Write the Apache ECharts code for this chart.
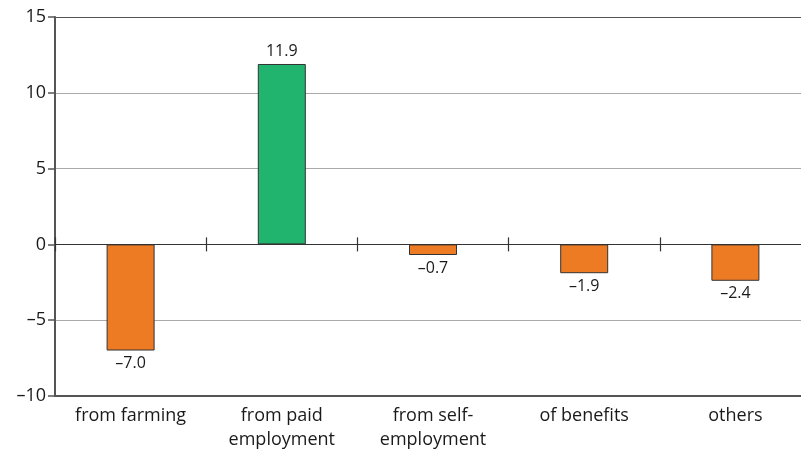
<!DOCTYPE html>
<html>
<head>
<meta charset="utf-8">
<script src="https://cdn.jsdelivr.net/npm/echarts@6/dist/echarts.min.js"></script>
<style>
  html, body { margin: 0; padding: 0; background: #fff; }
  #chart { width: 801px; height: 456px; }
</style>
</head>
<body>
<div id="chart"></div>
<script>
// 数据
const categories = ['from farming', 'from paid\nemployment', 'from self-\nemployment', 'of benefits', 'others'];
const values = [-7.0, 11.9, -0.7, -1.9, -2.4];
const yTicks = [-10, -5, 0, 5, 10, 15];

const orange = '#ED7B24';
const green = '#20B46E';
const fontFamily = '"Open Sans", "Noto Sans", sans-serif';

// 负号用长横线显示
function minus(v) {
  return String(v).replace('-', '\u2013');
}

const chart = echarts.init(document.getElementById('chart'));

const barData = values.map(v => ({
  value: v,
  itemStyle: { color: v < 0 ? orange : green },
  label: { position: v < 0 ? 'bottom' : 'top' }
}));

const yMin = yTicks[0];
const yMax = yTicks[yTicks.length - 1];

const option = {
  animation: false,
  // 绘图区右边超出画布一点
  grid: { left: 55, width: 756, top: 17, bottom: 60, outerBoundsMode: 'none' },
  xAxis: [
    {
      // 零线，刻度朝上
      type: 'category',
      data: categories,
      position: 'bottom',
      axisLine: { onZero: true, onZeroAxisIndex: 0, lineStyle: { color: '#333', width: 1.2 } },
      axisTick: { show: true, inside: true, length: 7, lineStyle: { color: '#333', width: 1.2 } },
      axisLabel: { show: false }
    },
    {
      // 零线，刻度朝下
      type: 'category',
      data: categories,
      position: 'bottom',
      axisLine: { onZero: true, onZeroAxisIndex: 1, lineStyle: { color: '#333', width: 1.2 } },
      axisTick: { show: true, length: 7, lineStyle: { color: '#333', width: 1.2 } },
      axisLabel: { show: false }
    },
    {
      // 底部轴，显示类别
      type: 'category',
      data: categories,
      position: 'bottom',
      axisLine: { onZero: false, lineStyle: { color: '#555', width: 2 } },
      axisTick: { show: false },
      axisLabel: {
        color: '#1a1a1a',
        fontSize: 18,
        fontFamily: fontFamily,
        lineHeight: 24,
        margin: 8,
        interval: 0
      }
    }
  ],
  yAxis: [
    {
      type: 'value',
      min: yMin,
      max: yMax,
      interval: 5,
      axisLine: { show: true, lineStyle: { color: '#555', width: 2 } },
      axisTick: { show: true, length: 7, lineStyle: { color: '#555', width: 1.5 } },
      axisLabel: {
        color: '#1a1a1a',
        fontSize: 18,
        fontFamily: fontFamily,
        margin: 9,
        formatter: v => minus(v)
      },
      splitLine: {
        show: true,
        lineStyle: { color: ['#555', '#aaa', '#aaa', '#aaa', '#aaa', '#555'], width: 1.2 }
      }
    },
    {
      // 辅助轴，只用来放第二条零线
      type: 'value',
      min: yMin,
      max: yMax,
      interval: 5,
      position: 'left',
      axisLine: { show: false },
      axisTick: { show: false },
      axisLabel: { show: false },
      splitLine: { show: false }
    }
  ],
  series: [
    {
      type: 'bar',
      xAxisIndex: 0,
      yAxisIndex: 0,
      data: barData,
      barWidth: 48,
      itemStyle: { borderColor: '#333', borderWidth: 1 },
      label: {
        show: true,
        color: '#1a1a1a',
        fontSize: 16,
        fontFamily: fontFamily,
        distance: 5,
        formatter: p => minus(p.value.toFixed(1))
      }
    }
  ]
};

chart.setOption(option);
</script>
</body>
</html>
